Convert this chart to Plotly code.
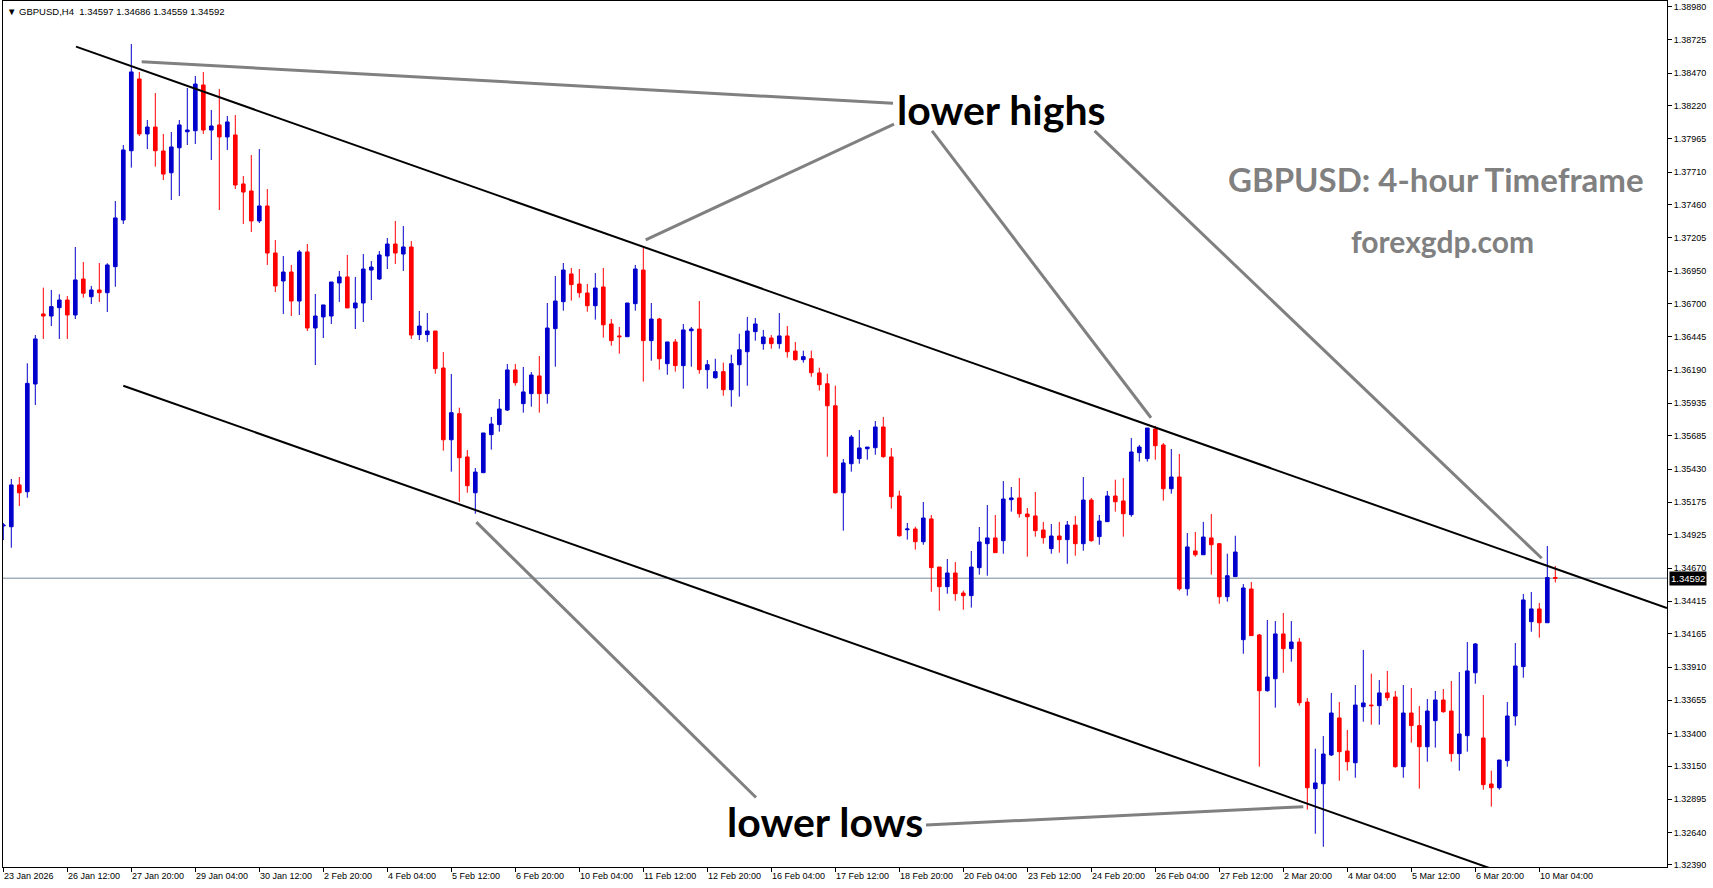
import plotly.graph_objects as go

# ---------------- data (GBPUSD H4) ----------------
opens = [
    1.34993, 1.34987, 1.35308, 1.35256, 1.36083, 1.36621, 1.36605, 1.36669, 1.36728, 1.36613,
    1.36889, 1.36753, 1.36805, 1.36784, 1.36984, 1.37342, 1.37874, 1.38425, 1.38003, 1.38056,
    1.37872, 1.37705, 1.37897, 1.38020, 1.38028, 1.38379, 1.38033, 1.38072, 1.37980, 1.37995,
    1.37619, 1.37565, 1.37335, 1.37450, 1.37089, 1.36874, 1.36943, 1.36720, 1.37097, 1.36513,
    1.36598, 1.36605, 1.36859, 1.36905, 1.36667, 1.36705, 1.36958, 1.36889, 1.37066, 1.37158,
    1.37081, 1.37135, 1.36462, 1.36462, 1.36490, 1.36206, 1.35655, 1.35855, 1.35523, 1.35248,
    1.35402, 1.35694, 1.35771, 1.35883, 1.36191, 1.35932, 1.36009, 1.36145, 1.36009, 1.36508,
    1.36715, 1.36928, 1.36851, 1.36782, 1.36684, 1.36828, 1.36544, 1.36452, 1.36446, 1.36700,
    1.36958, 1.36416, 1.36582, 1.36239, 1.36406, 1.36224, 1.36492, 1.36505, 1.36193, 1.36131,
    1.36178, 1.36039, 1.36231, 1.36331, 1.36485, 1.36393, 1.36436, 1.36393, 1.36452, 1.36336,
    1.36270, 1.36277, 1.36168, 1.36085, 1.35916, 1.35248, 1.35471, 1.35510, 1.35586, 1.35594,
    1.35753, 1.35523, 1.35223, 1.34964, 1.34970, 1.34872, 1.35047, 1.34678, 1.34527, 1.34632,
    1.34478, 1.34458, 1.34673, 1.34857, 1.34901, 1.34880, 1.35195, 1.35208, 1.35085, 1.35070,
    1.34962, 1.34819, 1.34916, 1.34888, 1.35000, 1.34857, 1.35192, 1.34911, 1.35026, 1.35223,
    1.35185, 1.35080, 1.35556, 1.35510, 1.35738, 1.35615, 1.35279, 1.35369, 1.34511, 1.34801,
    1.34772, 1.34901, 1.34857, 1.34450, 1.34604, 1.34120, 1.34509, 1.34156, 1.33728, 1.33820,
    1.34164, 1.34051, 1.34102, 1.33641, 1.32976, 1.33014, 1.33235, 1.33519, 1.33265, 1.33175,
    1.33605, 1.33618, 1.33613, 1.33711, 1.33680, 1.33145, 1.33557, 1.33460, 1.33298, 1.33498,
    1.33657, 1.33572, 1.33245, 1.33383, 1.33866, 1.33365, 1.33012, 1.32983, 1.33191, 1.33534,
    1.33913, 1.34258, 1.34356, 1.34250, 1.34597,
]
highs = [
    1.35016, 1.35354, 1.35369, 1.36242, 1.36459, 1.36823, 1.36805, 1.36772, 1.36759, 1.37135,
    1.37020, 1.36836, 1.37012, 1.37010, 1.37488, 1.37918, 1.38694, 1.38479, 1.38110, 1.38317,
    1.38003, 1.38018, 1.38110, 1.38356, 1.38448, 1.38479, 1.38187, 1.38348, 1.38141, 1.38148,
    1.37680, 1.37841, 1.37887, 1.37580, 1.37189, 1.37066, 1.36997, 1.37112, 1.37158, 1.36774,
    1.36690, 1.36866, 1.36951, 1.37074, 1.36905, 1.37081, 1.37027, 1.37104, 1.37204, 1.37335,
    1.37296, 1.37181, 1.36644, 1.36628, 1.36490, 1.36329, 1.36160, 1.35901, 1.35576, 1.35438,
    1.35707, 1.35830, 1.35968, 1.36237, 1.36237, 1.36214, 1.36175, 1.36298, 1.36705, 1.36912,
    1.37012, 1.36974, 1.36966, 1.36851, 1.36935, 1.36974, 1.36582, 1.36521, 1.36705, 1.36997,
    1.37127, 1.36705, 1.36590, 1.36406, 1.36429, 1.36544, 1.36521, 1.36720, 1.36267, 1.36277,
    1.36247, 1.36308, 1.36469, 1.36598, 1.36590, 1.36498, 1.36459, 1.36628, 1.36528, 1.36406,
    1.36339, 1.36339, 1.36208, 1.36162, 1.36070, 1.35507, 1.35692, 1.35730, 1.35599, 1.35799,
    1.35830, 1.35592, 1.35264, 1.35016, 1.34987, 1.35177, 1.35077, 1.34678, 1.34739, 1.34716,
    1.34496, 1.34801, 1.34985, 1.35154, 1.35077, 1.35338, 1.35292, 1.35361, 1.35131, 1.35254,
    1.35024, 1.35008, 1.35024, 1.35031, 1.35070, 1.35369, 1.35208, 1.35077, 1.35262, 1.35348,
    1.35361, 1.35668, 1.35615, 1.35745, 1.35761, 1.35630, 1.35584, 1.35546, 1.34939, 1.34947,
    1.35024, 1.35085, 1.34862, 1.34780, 1.34918, 1.34547, 1.34563, 1.34164, 1.34271, 1.34263,
    1.34325, 1.34263, 1.34133, 1.33672, 1.33283, 1.33380, 1.33711, 1.33641, 1.33427, 1.33772,
    1.34041, 1.33859, 1.33810, 1.33880, 1.33726, 1.33772, 1.33749, 1.33611, 1.33664, 1.33726,
    1.33741, 1.33803, 1.33872, 1.34102, 1.34094, 1.33695, 1.33114, 1.33196, 1.33641, 1.34094,
    1.34471, 1.34486, 1.34402, 1.34839, 1.34686,
]
lows = [
    1.34885, 1.34826, 1.35146, 1.35210, 1.35922, 1.36429, 1.36528, 1.36429, 1.36429, 1.36582,
    1.36746, 1.36697, 1.36713, 1.36636, 1.36830, 1.37312, 1.37744, 1.37987, 1.37887, 1.37752,
    1.37649, 1.37496, 1.37527, 1.37918, 1.37926, 1.38003, 1.37803, 1.37419, 1.37880, 1.37580,
    1.37312, 1.37250, 1.37319, 1.36997, 1.36789, 1.36621, 1.36605, 1.36613, 1.36490, 1.36229,
    1.36436, 1.36544, 1.36713, 1.36667, 1.36505, 1.36559, 1.36728, 1.36882, 1.36966, 1.37004,
    1.36951, 1.36429, 1.36421, 1.36406, 1.36162, 1.35571, 1.35410, 1.35179, 1.35248, 1.35087,
    1.35402, 1.35579, 1.35717, 1.35876, 1.36070, 1.35863, 1.35909, 1.35863, 1.35932, 1.36216,
    1.36646, 1.36723, 1.36746, 1.36638, 1.36577, 1.36439, 1.36377, 1.36316, 1.36446, 1.36646,
    1.36101, 1.36262, 1.36193, 1.36154, 1.36178, 1.36047, 1.36216, 1.36162, 1.36047, 1.36124,
    1.35993, 1.35909, 1.35986, 1.36070, 1.36416, 1.36346, 1.36354, 1.36354, 1.36285, 1.36262,
    1.36247, 1.36139, 1.36032, 1.35525, 1.35242, 1.34957, 1.35410, 1.35471, 1.35502, 1.35540,
    1.35517, 1.35126, 1.34911, 1.34888, 1.34811, 1.34849, 1.34488, 1.34342, 1.34473, 1.34419,
    1.34350, 1.34366, 1.34619, 1.34611, 1.34788, 1.34780, 1.35103, 1.35057, 1.34757, 1.34911,
    1.34857, 1.34780, 1.34788, 1.34703, 1.34765, 1.34803, 1.34872, 1.34849, 1.35026, 1.35103,
    1.34911, 1.35064, 1.35487, 1.35487, 1.35502, 1.35187, 1.35241, 1.34496, 1.34458, 1.34757,
    1.34772, 1.34619, 1.34396, 1.34412, 1.34604, 1.34012, 1.34151, 1.33145, 1.33721, 1.33598,
    1.33866, 1.33951, 1.33613, 1.32815, 1.32630, 1.32530, 1.33227, 1.33037, 1.33114, 1.33060,
    1.33490, 1.33467, 1.33467, 1.33651, 1.33137, 1.33060, 1.33329, 1.32976, 1.33183, 1.33291,
    1.33559, 1.33183, 1.33114, 1.33260, 1.33782, 1.32968, 1.32838, 1.32968, 1.33145, 1.33460,
    1.33828, 1.34181, 1.34135, 1.34250, 1.34559,
]
closes = [
    1.35000, 1.35308, 1.35248, 1.36088, 1.36429, 1.36605, 1.36677, 1.36728, 1.36613, 1.36882,
    1.36780, 1.36805, 1.36784, 1.36997, 1.37358, 1.37880, 1.38479, 1.38003, 1.38056, 1.37874,
    1.37695, 1.37903, 1.38072, 1.38033, 1.38386, 1.38033, 1.38064, 1.37980, 1.38095, 1.37611,
    1.37557, 1.37335, 1.37450, 1.37089, 1.36836, 1.36943, 1.36720, 1.37097, 1.36513, 1.36605,
    1.36690, 1.36866, 1.36905, 1.36667, 1.36705, 1.36966, 1.36981, 1.37074, 1.37158, 1.37089,
    1.37135, 1.36459, 1.36528, 1.36490, 1.36201, 1.35655, 1.35863, 1.35517, 1.35302, 1.35407,
    1.35707, 1.35776, 1.35891, 1.36191, 1.36093, 1.36022, 1.36152, 1.36009, 1.36513, 1.36720,
    1.36958, 1.36846, 1.36784, 1.36684, 1.36820, 1.36538, 1.36416, 1.36446, 1.36705, 1.36966,
    1.36416, 1.36582, 1.36277, 1.36406, 1.36224, 1.36498, 1.36505, 1.36193, 1.36231, 1.36178,
    1.36039, 1.36239, 1.36346, 1.36490, 1.36544, 1.36444, 1.36393, 1.36452, 1.36331, 1.36270,
    1.36293, 1.36170, 1.36078, 1.35916, 1.35248, 1.35477, 1.35676, 1.35592, 1.35599, 1.35753,
    1.35525, 1.35218, 1.34918, 1.34970, 1.34872, 1.35054, 1.34673, 1.34527, 1.34632, 1.34473,
    1.34458, 1.34678, 1.34870, 1.34901, 1.34788, 1.35200, 1.35208, 1.35087, 1.35064, 1.34957,
    1.34903, 1.34916, 1.34888, 1.35000, 1.34857, 1.35192, 1.34880, 1.35031, 1.35223, 1.35179,
    1.35087, 1.35561, 1.35599, 1.35745, 1.35609, 1.35279, 1.35369, 1.34511, 1.34832, 1.34772,
    1.34908, 1.34849, 1.34450, 1.34611, 1.34793, 1.34517, 1.34151, 1.33728, 1.33833, 1.34164,
    1.34051, 1.34102, 1.33636, 1.32983, 1.33020, 1.33242, 1.33557, 1.33260, 1.33183, 1.33618,
    1.33634, 1.33613, 1.33711, 1.33675, 1.33145, 1.33557, 1.33460, 1.33298, 1.33572, 1.33657,
    1.33567, 1.33245, 1.33396, 1.33880, 1.34087, 1.33007, 1.32983, 1.33196, 1.33534, 1.33918,
    1.34425, 1.34356, 1.34250, 1.34597, 1.34592,
]
bars = list(range(len(opens)))

x_tick_bars = list(range(0, 193, 8))
x_tick_labels = [
    "23 Jan 2026", "26 Jan 12:00", "27 Jan 20:00", "29 Jan 04:00", "30 Jan 12:00",
    "2 Feb 20:00", "4 Feb 04:00", "5 Feb 12:00", "6 Feb 20:00", "10 Feb 04:00",
    "11 Feb 12:00", "12 Feb 20:00", "16 Feb 04:00", "17 Feb 12:00", "18 Feb 20:00",
    "20 Feb 04:00", "23 Feb 12:00", "24 Feb 20:00", "26 Feb 04:00", "27 Feb 12:00",
    "2 Mar 20:00", "4 Mar 04:00", "5 Mar 12:00", "6 Mar 20:00", "10 Mar 04:00",
]
y_tick_labels = [
    "1.38980", "1.38725", "1.38470", "1.38220", "1.37965", "1.37710", "1.37460",
    "1.37205", "1.36950", "1.36700", "1.36445", "1.36190", "1.35935", "1.35685",
    "1.35430", "1.35175", "1.34925", "1.34670", "1.34415", "1.34165", "1.33910",
    "1.33655", "1.33400", "1.33150", "1.32895", "1.32640", "1.32390",
]
y_tick_values = [float(s) for s in y_tick_labels]

last_price = 1.34592
header_text = "GBPUSD,H4\u00a0\u00a01.34597 1.34686 1.34559 1.34592"

# drawn objects (bar index, price)
upper_channel_bars = [9.09, 207.96]
upper_channel_prices = [1.38673, 1.34363]
lower_channel_bars = [15.0, 187.09]
lower_channel_prices = [1.36070, 1.32338]

pointer_bars = [
    [17.30, 111.21],
    [80.30, 111.34],
    [116.09, 143.46],
    [136.41, 192.30],
    [59.13, 94.09],
    [115.34, 162.50],
]
pointer_prices = [
    [1.38558, 1.38238],
    [1.37189, 1.38079],
    [1.38026, 1.35824],
    [1.38026, 1.34745],
    [1.35022, 1.32908],
    [1.32697, 1.32838],
]

BLUE = "#0000CD"
RED = "#FF0000"
GRAY = "#808080"

fig = go.Figure()
fig.add_trace(go.Candlestick(
    x=bars, open=opens, high=highs, low=lows, close=closes,
    increasing=dict(line=dict(color=BLUE, width=1), fillcolor=BLUE),
    decreasing=dict(line=dict(color=RED, width=1), fillcolor=RED),
    whiskerwidth=0, hoverinfo="none", showlegend=False,
))

fig.add_trace(go.Scatter(x=upper_channel_bars, y=upper_channel_prices, mode="lines",
                         line=dict(color="black", width=2), hoverinfo="skip", showlegend=False))
fig.add_trace(go.Scatter(x=lower_channel_bars, y=lower_channel_prices, mode="lines",
                         line=dict(color="black", width=2), hoverinfo="skip", showlegend=False))
for bx, py in zip(pointer_bars, pointer_prices):
    fig.add_trace(go.Scatter(x=bx, y=py, mode="lines",
                             line=dict(color=GRAY, width=3), hoverinfo="skip", showlegend=False))

# current price line
fig.add_shape(type="line", xref="paper", x0=0, x1=1, yref="y", y0=last_price, y1=last_price,
              line=dict(color="#778899", width=1), layer="below")

PLOT_L, PLOT_R, PLOT_T, PLOT_B = 3, 1667, 1, 867
PW, PH = PLOT_R - PLOT_L, PLOT_B - PLOT_T


def px(xp):
    return (xp - PLOT_L) / PW


def py_(yp):
    return (PLOT_B - yp) / PH


annotations = []
TXT = "Lato"


def label(text, xc, yc, size, color):
    return dict(text=text, x=px(xc), y=py_(yc), xref="paper", yref="paper",
                xanchor="center", yanchor="middle", showarrow=False,
                font=dict(family=TXT, size=size, color=color))


annotations.append(label("<b>lower highs</b>", 1002, 109, 41, "black"))
annotations.append(label("<b>lower lows</b>", 825, 821, 41, "black"))
annotations.append(label("<b>GBPUSD: 4-hour Timeframe</b>", 1435.5, 179, 33, "#808080"))
annotations.append(label("<b>forexgdp.com</b>", 1442, 241, 30, "#808080"))

# header
annotations.append(dict(text="\u25bc " + header_text, x=0, y=1, xref="paper", yref="paper",
                        xanchor="left", yanchor="middle", xshift=3, yshift=-10, showarrow=False,
                        borderpad=0, font=dict(family="Liberation Sans", size=9.5, color="black")))

# x tick labels, left-aligned at the tick like the terminal does
for b, lab in zip(x_tick_bars, x_tick_labels):
    annotations.append(dict(text=lab, x=b, xref="x", y=0, yref="paper", xanchor="left",
                            yanchor="top", xshift=0, yshift=-3, showarrow=False, borderpad=0,
                            font=dict(family="Liberation Sans", size=9, color="black")))

# current price tag
annotations.append(dict(text="1.34592", x=1, xref="paper", y=last_price, yref="y", xanchor="left",
                        yanchor="middle", xshift=2, showarrow=False, bgcolor="black", borderpad=1,
                        font=dict(family="Liberation Sans", size=9.5, color="white")))

fig.update_layout(
    width=1713, height=888,
    margin=dict(l=PLOT_L, r=1713 - PLOT_R, t=PLOT_T, b=888 - PLOT_B),
    paper_bgcolor="white", plot_bgcolor="white",
    showlegend=False, hovermode=False,
    annotations=annotations,
    boxgap=0.35,
)
fig.update_xaxes(
    range=[(PLOT_L - 3.3) / 8, (PLOT_R - 3.3) / 8],
    rangeslider_visible=False, showgrid=False, zeroline=False,
    tickmode="array", tickvals=x_tick_bars, showticklabels=False,
    ticks="outside", ticklen=4, tickcolor="black", tickwidth=1,
    showline=True, linecolor="black", linewidth=1, mirror=True,
)
fig.update_yaxes(
    side="right",
    range=[1.390314 - 0.00007678 * PLOT_B, 1.390314 - 0.00007678 * PLOT_T],
    tickmode="array", tickvals=y_tick_values, ticktext=y_tick_labels,
    ticks="outside", ticklen=4, tickcolor="black", tickwidth=1,
    showline=True, linecolor="black", linewidth=1, mirror=True,
    showgrid=False, zeroline=False, automargin=False,
    tickfont=dict(family="Liberation Sans", size=9, color="black"),
)

fig.write_html("out.html", config={"displayModeBar": False})
